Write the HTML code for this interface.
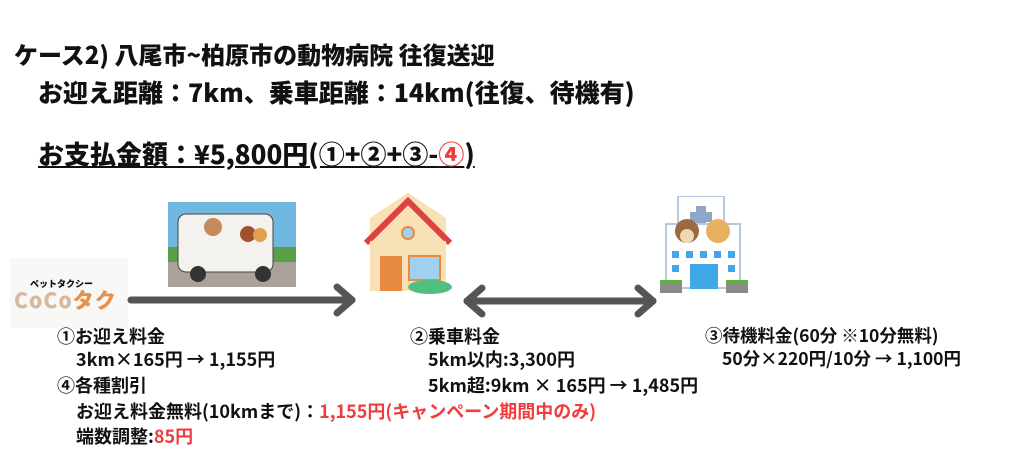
<!DOCTYPE html>
<html><head><meta charset="utf-8"><style>
body{margin:0;width:1024px;height:467px;background:#fff;position:relative;overflow:hidden;font-family:"Noto Sans CJK JP","Liberation Sans",sans-serif;font-weight:900;color:#111}
.t{position:absolute;white-space:nowrap;line-height:1}
.s{font-size:18px;font-weight:700}
.r{color:#f03c3c}
</style></head><body>
<div class="t" style="left:14px;top:42px;font-size:24px">ケース2) 八尾市~柏原市の動物病院 往復送迎</div>
<div class="t" style="left:38px;top:80px;font-size:25px">お迎え距離：7km、乗車距離：14km(往復、待機有)</div>
<div class="t" style="left:38px;top:141px;font-size:26px;text-decoration:underline">お支払金額：¥5,800円(①+②+③-<span class="r">④</span>)</div>

<!-- logo -->
<div style="position:absolute;left:10px;top:258px;width:118px;height:70px;background:#f8f8f6"></div>
<div class="t" style="left:30px;top:279px;font-size:9px">ペットタクシー</div>
<div class="t" style="left:14px;top:290px;font-size:21px;color:#d8b9a0;letter-spacing:1px">CoCo<span style="color:#e8904a">タク</span></div>

<!-- car image -->
<svg style="position:absolute;left:168px;top:202px" width="128" height="85">
<rect width="128" height="85" fill="#6fb8e0"/>
<rect y="45" width="128" height="25" fill="#5aa04a"/>
<rect y="60" width="128" height="25" fill="#a8a29a"/>
<rect x="10" y="12" width="95" height="58" rx="8" fill="#f4f2ee" stroke="#444"/>
<circle cx="45" cy="25" r="9" fill="#c88a5a"/>
<circle cx="80" cy="32" r="8" fill="#a0522d"/><circle cx="92" cy="33" r="7" fill="#e0a050"/>
<circle cx="30" cy="72" r="8" fill="#333"/><circle cx="95" cy="72" r="8" fill="#333"/>
</svg>

<!-- house -->
<svg style="position:absolute;left:362px;top:193px" width="95" height="102">
<polygon points="8,25 46,0 84,25 84,98 8,98" fill="#f8e1b4"/>
<polyline points="4,50 46,8 88,50" fill="none" stroke="#e04040" stroke-width="6"/>
<rect x="8" y="48" width="76" height="50" fill="#f8e1b4"/>
<circle cx="46" cy="40" r="6" fill="#a0d0f0" stroke="#e88a40" stroke-width="2"/>
<rect x="18" y="63" width="22" height="35" fill="#e88a40"/>
<rect x="47" y="63" width="31" height="24" fill="#a0d0f0" stroke="#e88a40" stroke-width="2"/>
<ellipse cx="68" cy="94" rx="22" ry="7" fill="#50c080"/>
</svg>

<!-- hospital -->
<svg style="position:absolute;left:660px;top:196px" width="90" height="97">
<rect x="18" y="0" width="46" height="35" fill="#fff" stroke="#b8c8e0" stroke-width="2"/>
<rect x="36" y="10" width="10" height="22" fill="#90a8c8"/><rect x="30" y="16" width="22" height="10" fill="#90a8c8"/>
<rect x="6" y="28" width="74" height="64" fill="#fff" stroke="#b8c8e0" stroke-width="2"/>
<circle cx="27" cy="35" r="12" fill="#9a6a40"/><circle cx="27" cy="40" r="7" fill="#f0d8b0"/>
<circle cx="58" cy="35" r="12" fill="#e8b060"/>
<g fill="#40a8e8"><rect x="12" y="55" width="7" height="7"/><rect x="26" y="55" width="7" height="7"/><rect x="40" y="55" width="7" height="7"/><rect x="54" y="55" width="7" height="7"/><rect x="68" y="55" width="7" height="7"/><rect x="12" y="69" width="7" height="7"/><rect x="68" y="69" width="7" height="7"/><rect x="30" y="68" width="28" height="25"/></g>
<rect x="0" y="86" width="22" height="11" fill="#8a8a8a"/><rect x="66" y="86" width="22" height="11" fill="#8a8a8a"/>
<rect x="0" y="84" width="22" height="3" fill="#60b040"/><rect x="66" y="84" width="22" height="3" fill="#60b040"/>
</svg>

<!-- arrows -->
<svg style="position:absolute;left:0;top:0" width="1024" height="467">
<g stroke="#555" stroke-width="7" fill="none" stroke-linecap="round" stroke-linejoin="round">
<line x1="131" y1="300" x2="352" y2="300"/>
<polyline points="337,287 352,300 337,313"/>
<line x1="467" y1="301" x2="653" y2="301"/>
<polyline points="482,288 467,301 482,314"/>
<polyline points="638,288 653,301 638,314"/>
</g>
</svg>

<div class="t s" style="left:57px;top:327px">①お迎え料金</div>
<div class="t s" style="left:76px;top:350px">3km×165円 → 1,155円</div>
<div class="t s" style="left:57px;top:376px">④各種割引</div>
<div class="t s" style="left:76px;top:402px">お迎え料金無料(10kmまで)：<span class="r">1,155円(キャンペーン期間中のみ)</span></div>
<div class="t s" style="left:76px;top:427px">端数調整:<span class="r">85円</span></div>

<div class="t s" style="left:410px;top:327px">②乗車料金</div>
<div class="t s" style="left:428px;top:350px">5km以内:3,300円</div>
<div class="t s" style="left:428px;top:376px">5km超:9km × 165円 → 1,485円</div>

<div class="t s" style="left:705px;top:327px;font-size:17.5px">③待機料金(60分 ※10分無料)</div>
<div class="t s" style="left:722px;top:350px;font-size:17.5px">50分×220円/10分 → 1,100円</div>
</body></html>
